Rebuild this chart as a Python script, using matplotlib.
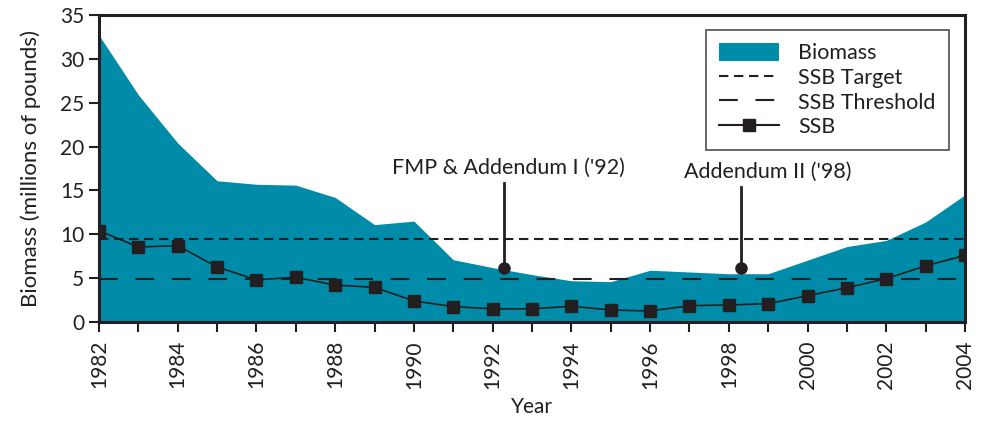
import matplotlib
matplotlib.use("Agg")
import matplotlib.pyplot as plt
from matplotlib.patches import Patch
from matplotlib.lines import Line2D

years = list(range(1982, 2005))
biomass = [32.7, 25.9, 20.4, 16.1, 15.7, 15.6, 14.2, 11.1, 11.5, 7.1, 6.2,
           5.4, 4.7, 4.6, 5.9, 5.7, 5.5, 5.5, 7.05, 8.6, 9.3, 11.4, 14.5]
ssb = [10.4, 8.55, 8.7, 6.27, 4.8, 5.1, 4.2, 3.95, 2.4, 1.75, 1.5, 1.5,
       1.8, 1.37, 1.25, 1.86, 1.94, 2.09, 3.0, 3.9, 4.94, 6.4, 7.6]
ssb_target = 9.5
ssb_threshold = 4.87
event_years = [1992.3, 1998.3]
event_dot_y = [6.2, 6.2]
event_top_y = [15.8, 15.4]
event_labels = ["FMP & Addendum I ('92)", "Addendum II ('98)"]
event_label_offset = [0.1, 0.7]

plt.rcParams['font.family'] = ['Lato', 'DejaVu Sans']
ink = '#231f20'
teal = '#008ca8'

fig = plt.figure(figsize=(9.85, 4.25), dpi=100)
ax = fig.add_axes([0.1005, 0.2424, 0.8792, 0.7223])

ax.fill_between(years, 0, biomass, color=teal, linewidth=0, zorder=1)
ax.axhline(ssb_target, color=ink, lw=1.5, dashes=(4.5, 2.7), zorder=2)
ax.axhline(ssb_threshold, color=ink, lw=1.5, dashes=(9, 8.5), zorder=2)
ax.plot(years, ssb, color=ink, lw=1.2, marker='s', markersize=9, zorder=3)

for x, yd, yt, lab, off in zip(event_years, event_dot_y, event_top_y, event_labels, event_label_offset):
    ax.plot([x, x], [yd, yt], color=ink, lw=2, zorder=4)
    ax.plot([x], [yd], 'o', color=ink, markersize=8, zorder=4)
    ax.text(x + off, yt + 0.6, lab, ha='center', va='bottom', fontsize=15.5, color=ink)

ax.set_xlim(1982, 2004)
ax.set_ylim(0, 35)
ax.set_xticks(list(range(1982, 2005, 2)))
ax.set_xticks(list(range(1983, 2004, 2)), minor=True)
ax.set_xticklabels([str(y) for y in range(1982, 2005, 2)], rotation=90, fontsize=15, color=ink)
ax.set_yticks(list(range(0, 36, 5)))
ax.set_yticklabels([str(v) for v in range(0, 36, 5)], fontsize=15, color=ink)
ax.tick_params(axis='both', which='both', direction='out', length=7, width=1.5, color=ink)
ax.tick_params(axis='x', which='both', pad=6)
for s in ax.spines.values():
    s.set_linewidth(2.2)
    s.set_color(ink)
ax.set_ylabel("Biomass (millions of pounds)", fontsize=16, color=ink, labelpad=14)
ax.set_xlabel("Year", fontsize=15, color=ink, labelpad=6)

handles = [
    Patch(facecolor=teal, edgecolor='none'),
    Line2D([], [], color=ink, lw=1.5, dashes=(4.5, 2.7)),
    Line2D([], [], color=ink, lw=1.5, dashes=(9, 8.5)),
    Line2D([], [], color=ink, lw=1.5, marker='s', markersize=9),
]
leg = ax.legend(handles, ["Biomass", "SSB Target", "SSB Threshold", "SSB"],
                loc='upper right', bbox_to_anchor=(0.981, 0.951), fontsize=15.5,
                frameon=True, fancybox=False, handlelength=2.8, handletextpad=0.9,
                handleheight=0.9, labelspacing=0.2, borderpad=0.6, borderaxespad=0)
leg.get_frame().set_edgecolor(ink)
leg.get_frame().set_linewidth(1.2)
for t in leg.get_texts():
    t.set_color(ink)

fig.savefig("out.png", dpi=100)
